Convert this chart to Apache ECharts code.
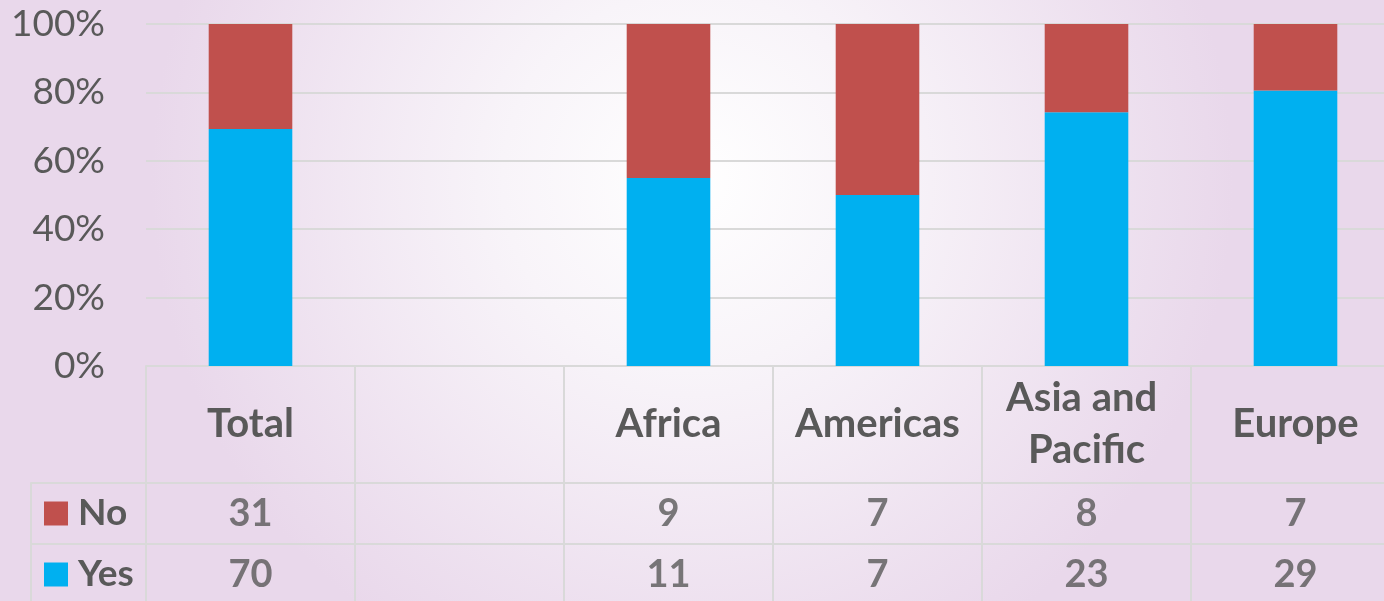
<!DOCTYPE html>
<html>
<head>
<meta charset="utf-8">
<script src="https://cdn.jsdelivr.net/npm/echarts@6/dist/echarts.min.js"></script>
<style>html,body{margin:0;padding:0;}#c{width:1384px;height:601px;}</style>
</head>
<body>
<div id="c"></div>
<script>
const categories = ['Total', '', 'Africa', 'Americas', 'Asia and Pacific', 'Europe'];
const noValues = [31, null, 9, 7, 8, 7];
const yesValues = [70, null, 11, 7, 23, 29];
const rowNames = ['Yes', 'No'];
const yTicks = [0, 20, 40, 60, 80, 100];

const pct = (v, i) => (v == null ? null : v / (noValues[i] + yesValues[i]) * 100);
const yesPct = yesValues.map(pct);
const noPct = noValues.map(pct);

const tableData = [];
categories.forEach((c, i) => {
  if (noValues[i] != null) tableData.push([i, 'No', noValues[i]]);
  if (yesValues[i] != null) tableData.push([i, 'Yes', yesValues[i]]);
});

const FONT = 'Lato';
const TXT = '#595959';
const LINE = '#D9D9D9';
const RED = '#C0504D';
const BLUE = '#00B0F0';

const chart = echarts.init(document.getElementById('c'));
chart.setOption({
  backgroundColor: {
    type: 'radial', x: 0.5, y: 0.3, r: 0.9,
    colorStops: [{offset: 0, color: '#FFFFFF'}, {offset: 0.35, color: '#F8F4F9'}, {offset: 1, color: '#E9D8EB'}]
  },
  textStyle: {fontFamily: FONT},
  animation: false,
  grid: [
    {left: 146, width: 1254, top: 24, bottom: 235, outerBoundsMode: 'none', containLabel: false},
    {left: 146, width: 1254, top: 483, height: 122, outerBoundsMode: 'none', containLabel: false}
  ],
  xAxis: [
    {
      type: 'category', gridIndex: 0, data: categories,
      axisLine: {show: true, lineStyle: {color: LINE, width: 2}},
      axisTick: {show: true, length: 117, lineStyle: {color: LINE, width: 2}},
      axisLabel: {
        interval: 0, color: TXT, fontFamily: FONT, fontWeight: 'bold', fontSize: 40,
        width: 195, overflow: 'break', lineHeight: 52, margin: 58, verticalAlign: 'middle', align: 'center'
      },
      splitLine: {show: false}
    },
    {
      type: 'category', gridIndex: 1, data: categories,
      axisLine: {show: false}, axisTick: {show: false}, axisLabel: {show: false},
      splitLine: {show: true, lineStyle: {color: LINE, width: 2}}
    }
  ],
  yAxis: [
    {
      type: 'value', gridIndex: 0, min: yTicks[0], max: yTicks[yTicks.length - 1], interval: 20,
      axisLine: {show: false}, axisTick: {show: false},
      axisLabel: {formatter: '{value}%', color: TXT, fontFamily: FONT, fontSize: 37, margin: 41},
      splitLine: {lineStyle: {color: LINE, width: 2}}
    },
    {
      type: 'category', gridIndex: 1, data: rowNames,
      axisLine: {show: true, lineStyle: {color: LINE, width: 2}},
      axisTick: {show: true, length: 115, lineStyle: {color: LINE, width: 2}},
      splitLine: {show: true, lineStyle: {color: LINE, width: 2}},
      axisLabel: {
        margin: 102, align: 'left',
        formatter: v => (v === 'No' ? '{no|}{t|No}' : '{yes|}{t|Yes}'),
        rich: {
          no: {width: 24, height: 24, backgroundColor: RED},
          yes: {width: 24, height: 24, backgroundColor: BLUE},
          t: {color: TXT, fontFamily: FONT, fontWeight: 'bold', fontSize: 37, padding: [0, 0, 0, 10]}
        }
      }
    },
    {
      type: 'category', gridIndex: 1, data: rowNames, position: 'left', offset: 115,
      axisLine: {show: true, lineStyle: {color: LINE, width: 2}},
      axisTick: {show: false}, axisLabel: {show: false}, splitLine: {show: false}
    }
  ],
  series: [
    {
      name: 'Yes', type: 'bar', stack: 'a', xAxisIndex: 0, yAxisIndex: 0, data: yesPct,
      barWidth: '40%', itemStyle: {color: BLUE}
    },
    {
      name: 'No', type: 'bar', stack: 'a', xAxisIndex: 0, yAxisIndex: 0, data: noPct,
      barWidth: '40%', itemStyle: {color: RED}
    },
    {
      type: 'scatter', xAxisIndex: 1, yAxisIndex: 1, data: tableData, symbolSize: 1, silent: true,
      itemStyle: {color: 'rgba(0,0,0,0)'},
      label: {
        show: true, position: 'inside', formatter: p => p.value[2],
        color: TXT, fontFamily: FONT, fontWeight: 'bold', fontSize: 38
      }
    }
  ]
});
</script>
</body>
</html>
